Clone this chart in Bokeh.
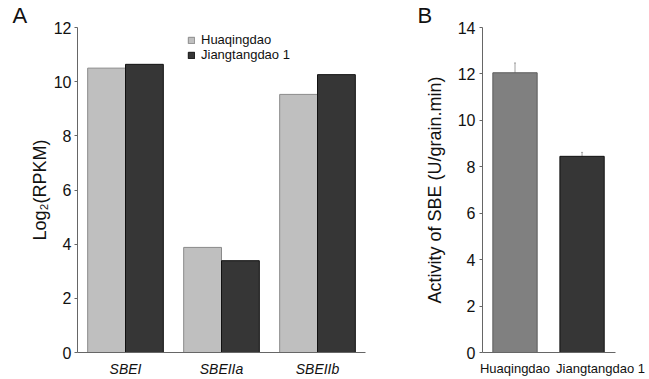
from bokeh.plotting import figure
from bokeh.layouts import row
from bokeh.models import (FactorRange, Range1d, ColumnDataSource, FixedTicker,
                          Whisker, TeeHead)
from bokeh.transform import dodge
from bokeh.embed import file_html
from bokeh.resources import INLINE

# ---- data ----
genes = ["SBEI", "SBEIIa", "SBEIIb"]
huaqingdao_log2 = [10.5, 3.88, 9.53]
jiangtangdao_log2 = [10.64, 3.39, 10.26]
a_ticks = [0, 2, 4, 6, 8, 10, 12]

cultivars = ["Huaqingdao", "Jiangtangdao 1"]
sbe_activity = [12.05, 8.45]
sbe_error = [0.42, 0.17]
b_ticks = [0, 2, 4, 6, 8, 10, 12, 14]

FONT = "Liberation Sans"
AXIS_COL = "#666666"

# ---- panel A ----
src_a = ColumnDataSource(dict(gene=genes, h=huaqingdao_log2, j=jiangtangdao_log2))
p1 = figure(x_range=FactorRange(*genes, range_padding=0), y_range=Range1d(0, 12),
            width=400, height=379, output_backend="svg", toolbar_location=None,
            title="A",
            min_border_left=77, min_border_right=35, min_border_top=27, min_border_bottom=27)
p1.vbar(x=dodge("gene", -0.197, range=p1.x_range), top="h", width=0.394, source=src_a,
        fill_color="#bfbfbf", line_color="#8a8a8a", line_width=1, legend_label="Huaqingdao")
p1.vbar(x=dodge("gene", 0.197, range=p1.x_range), top="j", width=0.394, source=src_a,
        fill_color="#363636", line_color="#111111", line_width=1, legend_label="Jiangtangdao 1")

p1.yaxis.ticker = FixedTicker(ticks=a_ticks)
p1.yaxis.axis_label = "Log₂(RPKM)"

# ---- panel B ----
xb = [1, 2]
bar_shift = [0.0, -0.216]
xb_bar = [a + b for a, b in zip(xb, bar_shift)]
src_b = ColumnDataSource(dict(x=xb_bar, v=sbe_activity,
                              lo=[v - e for v, e in zip(sbe_activity, sbe_error)],
                              hi=[v + e for v, e in zip(sbe_activity, sbe_error)],
                              c=["#808080", "#363636"], lc=["#5a5a5a", "#111111"]))
p2 = figure(x_range=Range1d(0.620, 2.175), y_range=Range1d(0, 14),
            width=249, height=379, output_backend="svg", toolbar_location=None,
            title="B",
            min_border_left=82, min_border_right=34, min_border_top=27, min_border_bottom=27)
p2.vbar(x="x", top="v", width=0.518, source=src_b, fill_color="c", line_color="lc", line_width=1)
wh = Whisker(base="x", upper="hi", lower="lo", source=src_b, line_color="#a0a0a0", line_width=1,
             upper_head=TeeHead(size=2, line_color="#a0a0a0"),
             lower_head=TeeHead(size=2, line_color="#555555"))
p2.add_layout(wh)
p2.yaxis.ticker = FixedTicker(ticks=b_ticks)
p2.xaxis.ticker = FixedTicker(ticks=xb)
p2.xaxis.major_label_overrides = {k: v for k, v in zip(xb, cultivars)}
p2.yaxis.axis_label = "Activity of SBE (U/grain.min)"

for p in (p1, p2):
    p.outline_line_color = None
    p.xgrid.visible = False
    p.ygrid.visible = False
    p.background_fill_color = "white"
    p.border_fill_color = "white"
    p.title.text_font = FONT
    p.title.text_font_size = "22px"
    p.title.text_font_style = "normal"
    p.title.text_color = "#111111"
    p.title.align = "left"
    p.title.offset = -65
    p.title.standoff = 0
    for ax in (p.xaxis[0], p.yaxis[0]):
        ax.axis_line_color = AXIS_COL
        ax.axis_line_width = 1
        ax.major_tick_line_color = AXIS_COL
        ax.minor_tick_line_color = None
        ax.major_label_text_font = FONT
        ax.major_label_text_color = "#111111"
        ax.axis_label_text_font = FONT
        ax.axis_label_text_font_style = "normal"
        ax.axis_label_text_color = "#111111"
    p.yaxis.major_tick_out = 3
    p.yaxis.major_tick_in = 0
    p.yaxis.major_label_text_font_size = "16px"
    p.yaxis.axis_label_text_font_size = "18px"
    p.xaxis.major_tick_out = 0
    p.xaxis.major_tick_in = 0
    p.xaxis.major_label_standoff = 8

p1.yaxis.major_label_standoff = 3
p1.yaxis.axis_label_standoff = 1
p2.yaxis.major_label_standoff = 4
p2.yaxis.axis_label_standoff = 10
p1.xaxis.major_label_text_font_size = "14px"
p1.xaxis.major_label_text_font_style = "italic"
p2.xaxis.major_label_text_font_size = "13px"

lg = p1.legend[0]
lg.location = (110, 290)
lg.background_fill_alpha = 0
lg.border_line_color = None
lg.padding = 0
lg.margin = 0
lg.spacing = 0
lg.glyph_width = 8
lg.glyph_height = 8
lg.label_height = 13
lg.label_standoff = 6
lg.label_text_font = FONT
lg.label_text_font_size = "13px"
lg.label_text_color = "#111111"

layout = row(p1, p2)
open("out.html", "w").write(file_html(layout, INLINE))
